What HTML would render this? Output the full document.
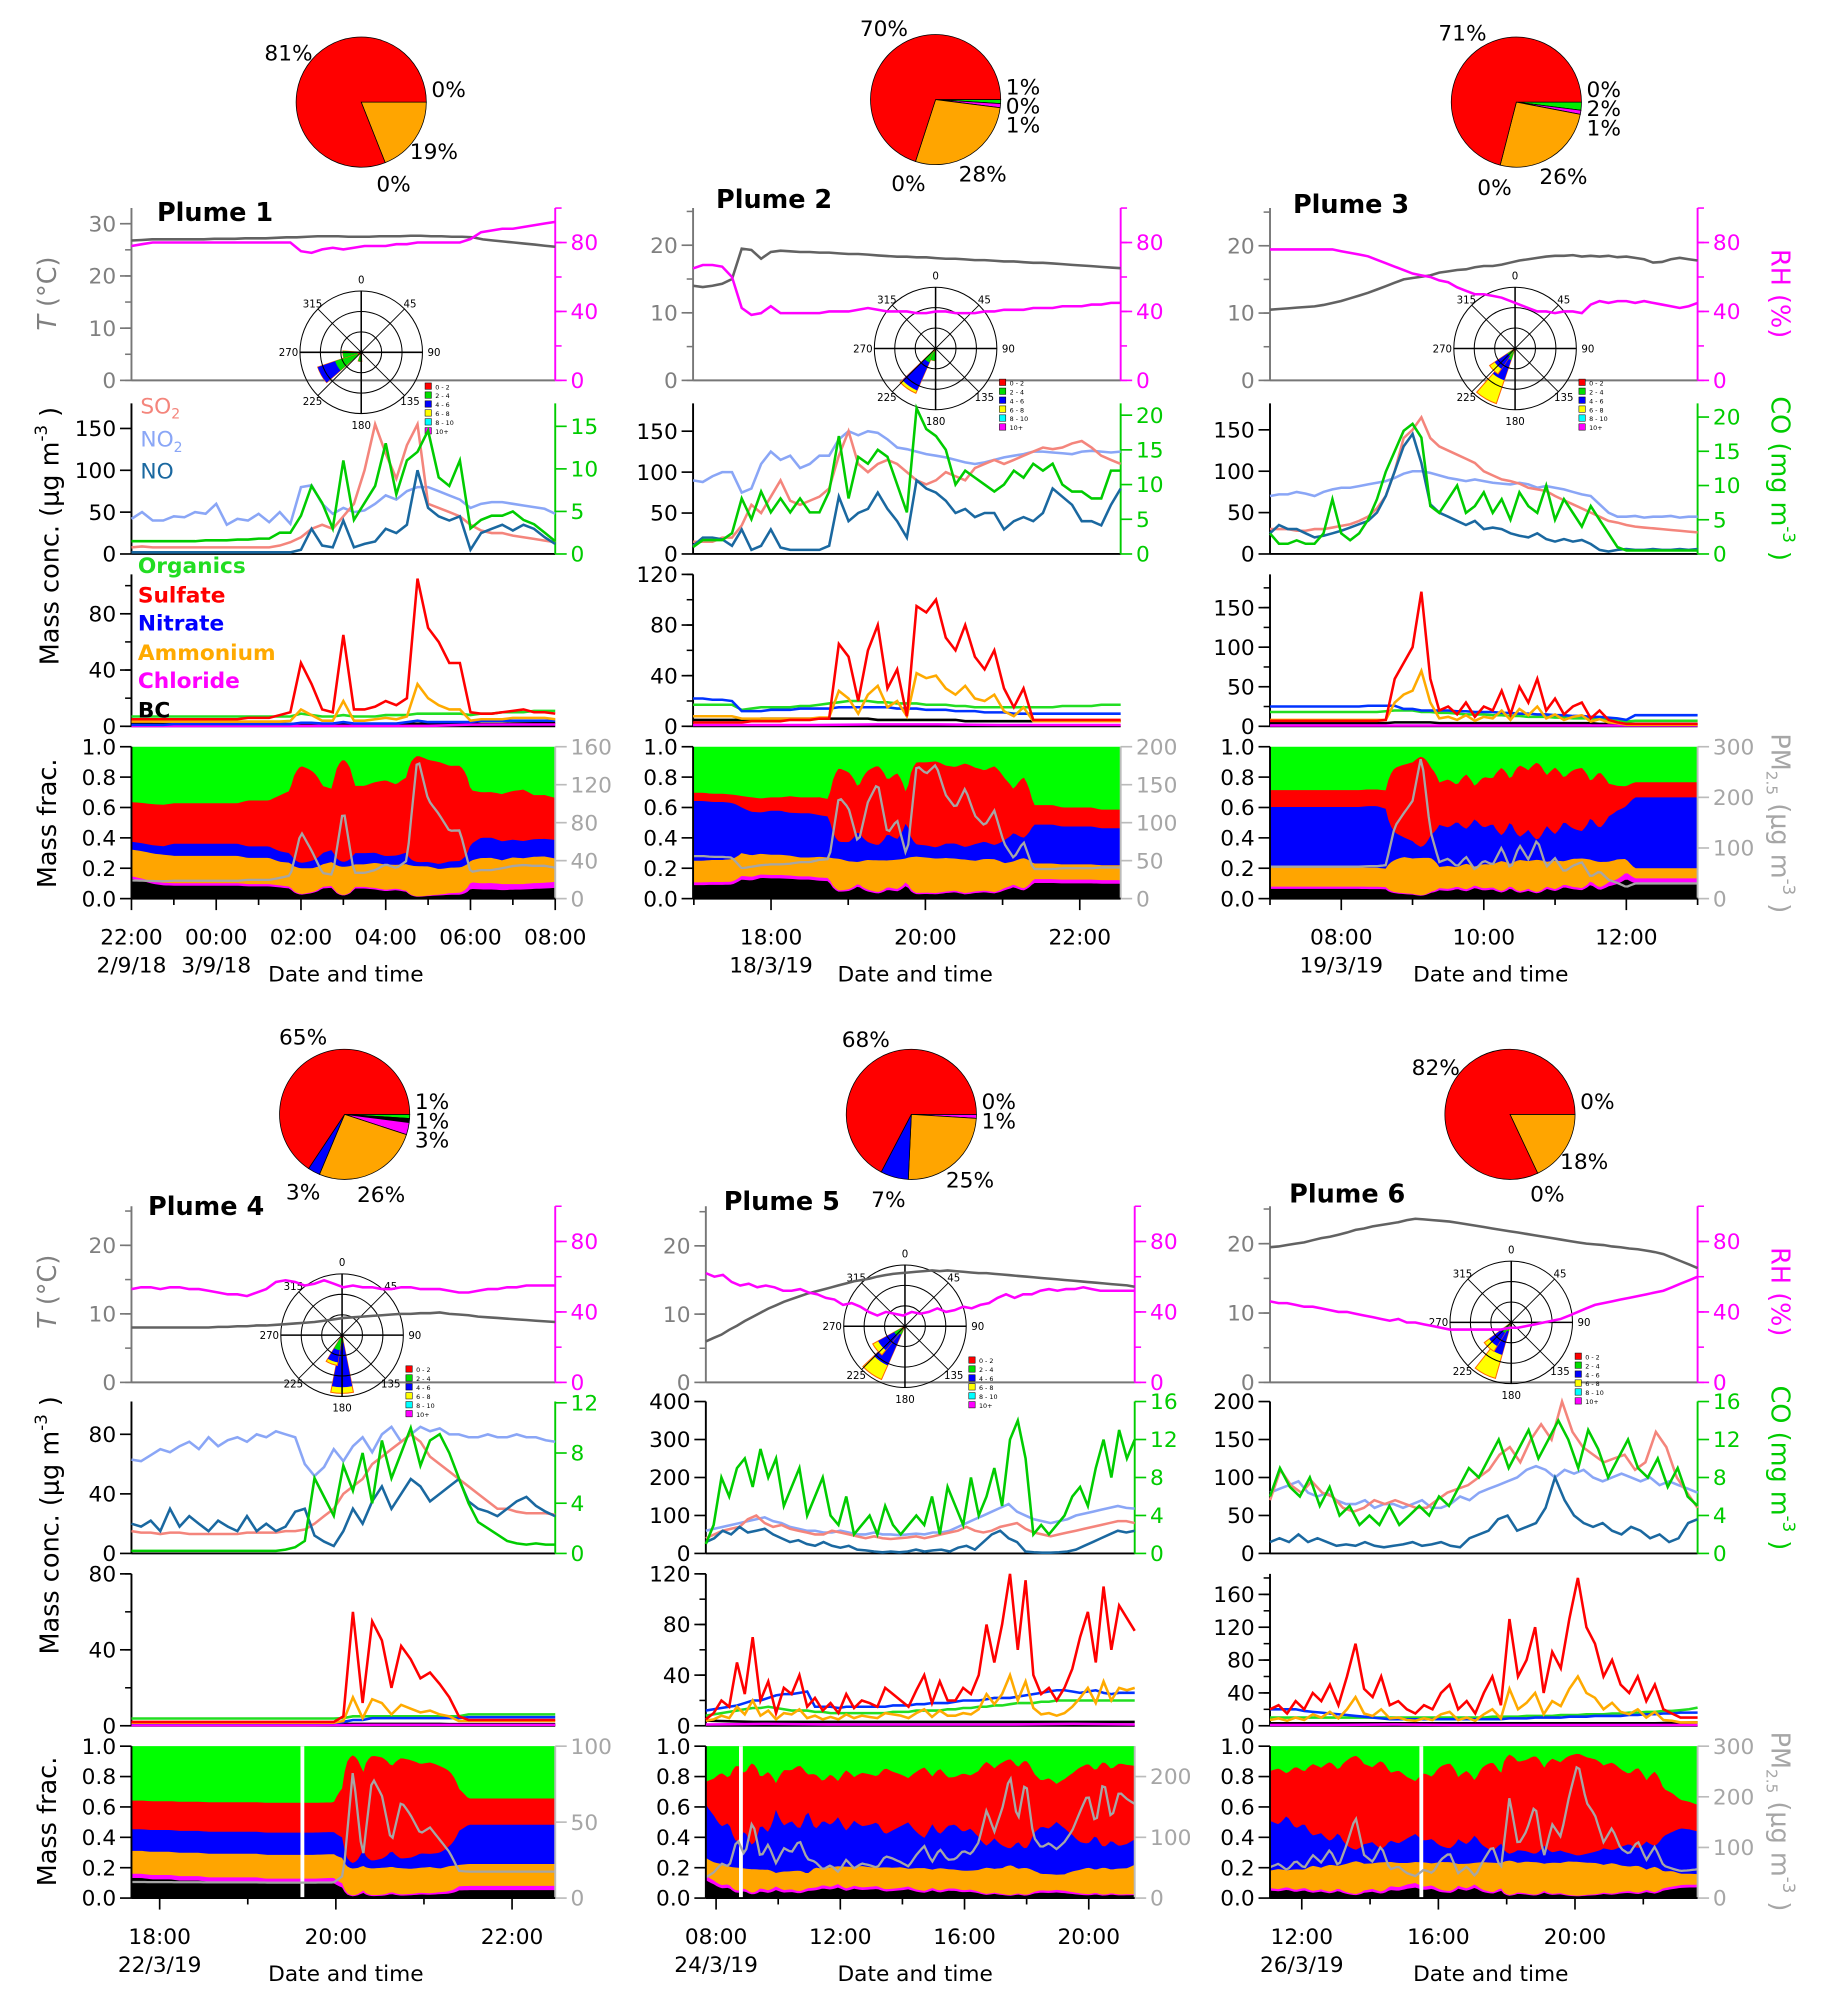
<!DOCTYPE html>
<html><head><meta charset="utf-8">
<style>html,body{margin:0;padding:0;background:#fff}svg{display:block}text{font-family:"DejaVu Sans","Liberation Sans",sans-serif}</style>
</head><body>
<svg id="fig" xmlns="http://www.w3.org/2000/svg" width="1838" height="2015" viewBox="0 0 1440 1578.6" preserveAspectRatio="none"></svg>
<script>
// ---------------- Plume 1 data ----------------
const p1_T=[26.8,26.9,27,27,27,27,27,27,27.1,27.1,27.1,27.2,27.2,27.2,27.3,27.4,27.4,27.5,27.6,27.6,27.6,27.5,27.5,27.5,27.6,27.6,27.6,27.7,27.7,27.6,27.6,27.5,27.5,27.4,27,26.8,26.6,26.4,26.2,26,25.8,25.6];
const p1_RH=[78,79,80,80,80,80,80,80,80,80,80,80,80,80,80,80,75,74,76,77,76,77,78,78,78,79,79,80,80,80,80,80,82,86,87,88,88,89,90,91,92];
const p1_NO2=[42,50,40,40,45,44,50,48,60,35,42,40,48,38,50,36,80,82,60,48,55,50,52,60,70,65,75,80,80,75,70,65,55,60,62,62,60,58,56,54,48];
const p1_SO2=[8,9,8,8,8,8,8,8,8,8,8,8,8,8,10,14,20,30,35,30,45,60,100,155,120,90,130,155,60,55,50,45,35,28,25,25,22,20,18,16,14];
const p1_NO=[2,2,2,2,2,2,2,2,2,2,2,2,2,2,2,2,5,30,10,8,40,8,12,15,30,25,35,100,55,45,40,45,5,25,30,35,28,35,30,20,12];
const p1_CO=[1.5,1.5,1.5,1.5,1.5,1.5,1.5,1.6,1.6,1.6,1.7,1.7,1.8,1.8,2.5,2.5,4.5,8,6,3,11,4,6,8,13,7,11,12,14.5,9,8,11,3,4,4.5,4.5,5,4,3.5,2.5,1.5];
const p1_Org=[7,7,7,7,7,7,7,7,7,7,7,7,7,7,7,7,9,8,7,7,8,7,7,7,8,8,8,9,9,9,9,9,8,9,9,10,10,10,11,11,11];
const p1_SO4=[5,5,5,5,5,5,5,5,5,5,5,6,6,6,8,10,45,30,12,10,65,12,12,14,18,15,20,105,70,60,45,45,10,9,9,10,11,12,10,10,9];
const p1_NO3=[1,1,1,1,1.5,1.5,1.5,1.5,1.5,1.5,1.5,1.5,1.5,1.5,1.5,1.5,2.5,2.5,2,2,3,2,2,2,2,2,3,4,3,3,3,3,3,4,4,4,4,4,4,4,4];
const p1_NH4=[3.4,3.4,3.4,3.4,3.4,3.4,3.4,3.4,3.4,3.4,3.4,3.4,3.4,3.4,3.4,3.8,12,8,4,4,18,4,4,5,6,5,7,30,20,15,12,12,4,5,5,5,6,6,6,6,5];
const p1_Chl=[0.3,0.3,0.3,0.3,0.3,0.3,0.3,0.3,1.2,1.3,1.3];
const p1_BC=[2.5,2.2,1.8,1.6,1.6,1.6,1.6,1.6,1.6,1.6,1.6,1.6,1.6,1.6,1.6,1.6,1.8,1.8,1.8,1.8,1.8,1.8,1.8,1.8,1.8,1.8,1.8,1.8,1.8,1.8,1.8,1.8,1.8,1.8,1.8,1.8,2,2.1,2.2,2.3,2.3];
// ---------------- Plume 2 data ----------------
const p2_T=[14,13.8,14,14.3,15,19.5,19.3,18,19,19.2,19.1,19,19,18.9,18.9,18.8,18.7,18.7,18.6,18.5,18.4,18.3,18.3,18.2,18.2,18.1,18,18,17.9,17.8,17.8,17.7,17.6,17.6,17.5,17.4,17.4,17.3,17.2,17.1,17,16.9,16.8,16.7,16.6];
const p2_RH=[65,67,67,66,60,42,38,39,43,39,39,39,39,39,40,40,40,41,42,41,40,40,40,39,39,40,40,39,39,39,40,40,41,41,41,42,42,42,43,43,43,44,44,45,45];
const p2_NO2=[90,88,95,100,100,75,80,110,125,115,120,105,110,120,120,140,150,145,150,148,140,130,128,125,122,120,118,115,112,110,112,115,118,120,122,125,125,124,123,122,125,126,125,124,125];
const p2_SO2=[15,15,15,20,20,35,60,50,70,90,65,60,65,70,80,120,150,110,100,110,115,110,100,90,85,90,100,95,90,105,110,115,110,115,120,125,130,128,130,135,138,130,120,115,110];
const p2_NO=[10,20,20,18,10,30,5,10,30,8,5,5,5,5,10,70,40,50,55,75,55,40,20,90,80,75,65,50,55,45,50,50,30,40,45,40,50,80,70,60,40,40,35,60,80];
const p2_CO=[1,2,2,2,3,8,5,9,6,8,6,8,6,6,9,17,8,14,13,15,14,10,6,21,18,17,15,10,12,11,10,9,10,12,11,13,12,13,10,9,9,8,8,12,12];
const p2_Org=[17,17,17,17,17,13,14,15,15,15,15,16,16,17,18,19,20,20,20,19,19,18,18,18,17,17,17,16,16,15,15,15,15,15,15,15,15,15,16,16,16,16,17,17,17];
const p2_SO4=[3,3,3,3,3,3,4,4,4,4,5,5,5,6,6,65,55,20,60,80,30,45,8,95,90,100,70,60,80,55,45,60,30,15,30,5,5,5,5,5,5,5,5,5,5];
const p2_NO3=[22,22,21,21,20,12,12,12,13,13,13,14,14,14,14,15,15,15,15,15,15,14,14,14,13,13,13,12,12,12,11,11,11,10,10,10,10,10,10,10,10,10,10,10,10];
const p2_NH4=[8,8,8,8,8,6,6,6,6,6,6,6,6,7,7,28,22,10,25,32,15,20,8,42,38,40,30,25,32,22,20,25,12,8,15,4,4,4,4,4,4,4,4,4,4];
const p2_Chl=[1,1,1,1.5,1.5,1,1,1];
const p2_BC=[5,5,5,5,5,5,5,6,6,6,6,6,6,6,6,6,6,6,6,5,5,5,5,5,5,5,5,5,4,4,4,4,4,4,4,4,4,4,4,4,4,4,4,4,4];
// ---------------- Plume 3 data ----------------
const p3_T=[10.5,10.6,10.7,10.8,10.9,11,11.2,11.5,11.8,12.2,12.6,13,13.5,14,14.5,15,15.2,15.4,15.6,16,16.2,16.4,16.5,16.8,17,17,17.2,17.5,17.8,18,18.2,18.4,18.5,18.5,18.6,18.4,18.5,18.4,18.5,18.3,18.4,18.2,18,17.5,17.6,18,18.2,18,17.8];
const p3_RH=[76,76,76,76,76,76,76,76,75,74,73,72,70,68,66,64,62,61,60,58,57,54,52,50,50,49,48,46,44,42,40,40,39,40,40,39,44,46,45,46,46,45,46,45,44,43,42,43,45];
const p3_NO2=[70,72,72,75,73,70,75,78,80,80,82,84,86,88,92,97,100,100,98,95,92,90,88,90,88,86,85,84,86,84,80,82,80,78,75,72,70,60,50,45,45,46,44,45,45,46,44,45,45];
const p3_SO2=[30,30,30,28,28,30,30,32,34,36,40,45,55,70,100,140,150,165,140,130,125,120,115,110,100,95,90,88,85,80,78,76,70,65,60,55,50,45,40,38,35,33,32,31,30,29,28,27,26];
const p3_NO=[25,35,30,30,25,20,22,25,28,32,36,40,50,70,100,130,145,110,60,50,45,40,35,40,30,32,30,25,22,20,25,18,15,18,15,17,12,5,3,5,6,5,5,6,5,5,6,5,6];
const p3_CO=[3,1.5,1.5,2,1.5,1.5,3,8,3,2,3,5,8,12,15,18,19,17,7,6,8,10,6,7,9,6,8,5,9,7,6,10,5,8,6,4,7,5,3,1,0.5,0.5,0.5,0.5,0.5,0.5,0.5,0.5,0.5];
const p3_Org=[18,18,18,18,18,18,18,18,18,18,18,18,18,19,20,20,20,18,18,17,17,16,15,15,15,14,14,13,13,12,12,12,11,11,10,10,10,9,9,8,6,7,7,7,7,7,7,7,7];
const p3_SO4=[7,7,7,7,7,7,7,7,7,7,7,7,7,8,60,80,100,170,60,20,25,15,30,12,25,20,45,15,50,30,60,20,35,15,25,30,10,20,8,5,3,3,3,3,3,3,3,3,3];
const p3_NO3=[25,25,25,25,25,25,25,25,25,25,25,26,26,26,26,22,22,20,20,20,20,19,19,18,18,18,17,17,16,16,15,15,14,14,13,13,12,12,11,10,8,14,14,14,14,14,14,14,14];
const p3_NH4=[8,8,8,8,8,8,8,8,8,8,8,8,8,8,30,40,45,70,30,10,12,8,14,7,12,10,20,8,22,14,25,10,15,8,12,14,6,9,5,4,2,2,2,2,2,2,2,2,2];
const p3_Chl=[1,1,1,1,1,1,1,1];
const p3_BC=[4,4,4,4,4,4,4,4,4,4,4,4,4,4,5,5,5,5,5,4,4,4,4,4,4,4,4,4,4,4,4,4,4,4,4,4,4,3,3,3,3,3,3,3,3,3,3,3,3];
// ---------------- Plume 4 data ----------------
const p4_T=[8,8,8,8,8,8,8,8,8,8.1,8.1,8.2,8.2,8.3,8.3,8.4,8.5,8.6,8.7,8.8,9,9.2,9.4,9.5,9.6,9.7,9.8,9.9,10,10,10.1,10.1,10.2,10,9.9,9.8,9.6,9.5,9.4,9.3,9.2,9.1,9,8.9,8.8];
const p4_RH=[53,54,54,53,54,54,53,53,52,51,50,50,49,51,53,57,58,57,55,56,58,56,54,55,54,54,53,53,54,54,53,53,53,52,51,51,52,53,53,54,54,55,55,55,55];
const p4_NO2=[63,62,66,70,68,72,75,70,78,72,76,78,75,80,78,82,80,78,60,52,58,70,62,72,78,68,80,85,75,80,85,82,84,80,80,78,78,80,78,78,80,78,78,76,75];
const p4_SO2=[15,14,14,13,14,14,13,13,13,13,13,13,14,14,14,14,15,15,16,20,25,30,40,45,50,60,65,70,75,80,75,65,60,55,50,45,40,35,30,30,28,27,27,27,26];
const p4_NO=[20,18,22,15,30,18,25,20,15,22,18,15,25,15,20,15,18,28,30,12,8,5,15,30,20,35,45,30,40,50,45,35,40,45,50,35,30,28,25,30,35,38,32,28,25];
const p4_CO=[0.2,0.2,0.2,0.2,0.2,0.2,0.2,0.2,0.2,0.2,0.2,0.2,0.2,0.2,0.2,0.2,0.3,0.5,1,6,4.5,3,7,5,8,4,9,6,8,10,7,9,9.5,8,6,4,2.5,2,1.5,1,0.8,0.7,0.8,0.7,0.7];
const p4_Org=[3.8,3.8,3.8,3.8,3.8,3.8,3.8,3.8,3.8,3.8,3.8,3.8,3.8,3.8,3.8,3.8,3.8,3.8,3.8,3.8,3.8,3.8,4,5,5,5,5,5,5,5,5,5,5,5,5,6,6,6,6,6,6,6,6,6,6];
const p4_SO4=[2,2,2,2,2,2,2,2,2,2,2,2,2,2,2,2,2,2,2,2,2,2,5,60,12,55,45,20,42,35,25,28,22,15,5,3,3,3,3,3,3,3,3,3,3];
const p4_NO3=[1.5,1.5,1.5,1.5,1.5,1.5,1.5,1.5,1.5,1.5,1.5,1.5,1.5,1.5,1.5,1.5,1.5,1.5,1.5,1.5,1.5,1.5,2,3,3,4,4,4,4,4,4,4,4,4,4,4.5,4.5,4.5,4.5,4.5,4.5,4.5,4.5,4.5,4.5];
const p4_NH4=[1.6,1.6,1.6,1.6,1.6,1.6,1.6,1.6,1.6,1.6,1.6,1.6,1.6,1.6,1.6,1.6,1.6,1.6,1.6,1.6,1.6,1.6,2.5,15,4,14,12,6,11,9,7,8,6,5,2.5,2.5,2.5,2.5,2.5,2.5,2.5,2.5,2.5,2.5,2.5];
const p4_Chl=[0.3,0.3,0.3,0.3,0.5,0.5,0.5,0.5];
const p4_BC=[1.4,1.4,1.3,1.3,1.3,1.2,1.2,1.2,1.1,1.1,1.1,1.1,1.1,1.1,1,1,1,1,1,1,1,1,1,1,1,1,1,1,1,1,1,1,1,0.9,0.9,0.9,0.9,0.9,0.9,0.9,0.9,0.9,0.9,0.9,0.9];
// ---------------- Plume 5 data ----------------
const p5_T=[6,6.5,7,7.7,8.3,9,9.6,10.2,10.8,11.3,11.8,12.2,12.6,13,13.3,13.6,13.9,14.2,14.5,14.8,15,15.2,15.5,15.7,15.9,16,16.1,16.2,16.3,16.4,16.3,16.4,16.3,16.2,16.1,16,16,15.9,15.8,15.7,15.6,15.5,15.4,15.3,15.2,15.1,15,14.9,14.8,14.7,14.6,14.5,14.4,14.3,14.2,14];
const p5_RH=[62,60,61,57,55,56,54,55,54,52,52,53,51,50,48,47,44,45,43,40,38,40,39,38,40,39,40,42,40,41,43,42,44,45,48,50,48,50,50,52,53,52,53,53,54,53,52,52,52,52,52];
const p5_NO2=[60,65,70,75,80,85,90,95,85,80,70,65,60,60,55,55,60,55,50,50,55,50,50,48,50,52,50,55,55,60,70,80,90,100,110,120,130,110,100,90,85,80,85,90,100,105,110,115,120,125,120,118];
const p5_SO2=[40,50,60,65,70,90,100,80,70,75,65,60,55,50,50,60,55,50,45,40,45,40,38,40,42,45,40,45,50,55,60,70,60,55,60,70,75,80,65,55,50,45,50,55,60,65,70,75,80,85,85,80];
const p5_NO=[30,40,60,50,70,55,60,65,50,40,30,35,25,20,30,20,15,20,10,8,5,3,5,3,5,10,5,8,10,5,15,20,10,30,50,60,40,30,5,3,2,2,3,5,10,20,30,40,50,60,55,60];
const p5_CO=[1,3,8,6,9,10,7,11,8,10,5,7,9,4,6,8,4,3,6,2,3,4,2,5,3,2,3,4,3,6,2,7,5,3,8,4,6,9,5,12,14,10,2,3,2,3,4,6,7,5,9,12,8,13,10,12];
const p5_Org=[8,9,10,11,12,13,14,14,15,14,13,12,12,12,11,11,10,10,10,10,10,10,10,10,11,11,11,12,12,12,12,13,13,14,14,15,15,16,16,17,18,18,18,19,19,20,20,20,20,20,20,20,20,20,20,20];
const p5_SO4=[5,10,20,15,50,25,70,20,35,10,30,25,40,15,22,12,18,10,25,14,20,18,15,30,25,20,15,28,40,18,35,20,20,30,25,40,80,50,80,120,60,115,40,25,30,20,30,45,70,90,50,110,60,95,85,75];
const p5_NO3=[12,13,14,15,16,18,20,20,22,24,25,25,26,27,15,15,15,14,15,15,15,15,15,15,16,16,16,17,17,18,18,18,19,20,20,20,21,22,22,22,23,24,25,26,27,28,28,27,26,27,28,26,25,26,26,26];
const p5_NH4=[4,5,8,6,15,9,20,8,12,5,10,9,13,6,8,5,7,5,9,6,8,7,6,10,9,8,6,10,13,7,12,8,8,10,9,13,25,17,25,40,20,35,14,9,10,8,10,15,22,30,18,35,20,30,28,30];
const p5_Chl=[1,1.5,1,1,1,1,1.5,1];
const p5_BC=[4,3,3,3,3,3,3,3,3,3];
// ---------------- Plume 6 data ----------------
const p6_T=[19.5,19.6,19.8,20,20.2,20.5,20.8,21,21.3,21.6,22,22.2,22.5,22.7,22.9,23.1,23.4,23.6,23.5,23.4,23.3,23.2,23,22.8,22.6,22.4,22.2,22,21.8,21.6,21.4,21.2,21,20.8,20.6,20.4,20.2,20,19.9,19.8,19.6,19.5,19.3,19.2,19,18.8,18.5,18,17.5,17,16.5];
const p6_RH=[46,45,45,44,43,43,42,41,40,40,39,38,37,36,35,36,34,34,33,32,31,30,30,30,30,30,30,30,31,31,32,33,34,35,36,38,40,42,44,45,46,47,48,49,50,51,52,54,56,58,60];
const p6_NO2=[80,85,90,95,80,75,80,70,65,65,70,60,65,65,60,65,70,60,60,65,75,70,80,85,90,95,100,110,115,110,100,110,105,110,100,95,100,105,100,95,100,90,95,90,85,80];
const p6_SO2=[70,110,90,80,95,80,75,60,55,60,70,65,70,65,60,60,70,80,85,90,100,110,130,140,120,150,170,150,200,160,140,130,120,125,130,110,120,160,140,100,80,60];
const p6_NO=[15,20,15,25,15,20,15,10,12,10,15,10,8,10,12,15,10,12,15,10,8,20,25,30,45,50,30,35,40,60,100,70,50,40,35,40,30,25,35,30,20,25,15,20,40,45];
const p6_CO=[6,9,7,6,8,5,7,4,5,3,4,3,5,3,4,5,4,6,5,7,9,8,10,12,9,11,13,10,12,14,12,9,13,11,8,10,12,9,8,10,7,9,6,5];
const p6_Org=[10,10,10,10,10,10,10,10,10,10,10,10,10,10,10,10,10,10,10,10,10,10,10,10,10,10,11,11,11,11,12,12,12,12,13,13,13,14,14,14,15,15,16,16,17,17,18,18,19,20,22];
const p6_SO4=[20,25,15,30,20,40,30,50,25,60,100,45,35,60,25,30,20,15,25,20,40,50,20,30,15,40,60,25,130,60,80,120,40,90,70,130,180,120,100,60,80,50,40,60,30,50,20,15,10,10,10];
const p6_NO3=[20,20,20,20,18,17,16,15,14,13,12,11,10,9,8,8,8,8,8,8,8,8,8,8,8,8,8,8,9,9,9,10,10,10,10,11,11,11,12,12,12,12,13,13,14,14,15,15,16,16,16];
const p6_NH4=[7,9,6,10,7,14,10,17,9,20,35,15,12,20,9,10,7,6,9,7,14,17,7,10,6,14,20,9,45,20,28,40,14,30,24,45,60,40,34,20,28,17,14,20,10,17,7,6,4,4,4];
const p6_Chl=[1,1,1.5,1,1,1,1,1];
const p6_BC=[3,3,3,3,3,3,3,3,3,3,4];
// ---------------- Pie & wind rose data ----------------
// pie slices clockwise from east; keys: org,bc,chl,nh4,no3,so4
const p1_pieKeys=['org','nh4','no3','so4'];       const p1_pieVals=[0,19,0,81];
const p2_pieKeys=['org','bc','chl','nh4','no3','so4']; const p2_pieVals=[1,0,1,28,0,70];
const p3_pieKeys=['bc','org','chl','nh4','no3','so4']; const p3_pieVals=[0,2,1,26,0,71];
const p4_pieKeys=['org','bc','chl','nh4','no3','so4']; const p4_pieVals=[1,1,3,26,3,65];
const p5_pieKeys=['org','chl','nh4','no3','so4'];      const p5_pieVals=[0,1,25,7,68];
const p6_pieKeys=['org','nh4','no3','so4'];            const p6_pieVals=[0,18,0,82];
const p1_roseDir=[240,263,188]; const p1_roseR=[[.06,.45,.75,.75],[.05,.3,.3,.3],[.05,.15,.15,.15]];
const p2_roseDir=[215,195];     const p2_roseR=[[.05,.25,.75,.8],[.05,.2,.2,.2]];
const p3_roseDir=[210,225];     const p3_roseR=[[.05,.2,.55,.95],[.05,.15,.4,.5]];
const p4_roseDir=[180,200];     const p4_roseR=[[.05,.12,.85,.95],[.05,.25,.45,.5]];
const p5_roseDir=[215,230];     const p5_roseR=[[.05,.15,.7,.95],[.05,.2,.5,.6]];
const p6_roseDir=[207,222];     const p6_roseR=[[.05,.15,.55,.95],[.05,.2,.45,.55]];
const p4_gaps=[19.62]; const p5_gaps=[8.8]; const p6_gaps=[15.5];

const D=[
 {T:p1_T,RH:p1_RH,NO2:p1_NO2,SO2:p1_SO2,NO:p1_NO,CO:p1_CO,Org:p1_Org,SO4:p1_SO4,NO3:p1_NO3,NH4:p1_NH4,Chl:p1_Chl,BC:p1_BC,pk:p1_pieKeys,pv:p1_pieVals,rd:p1_roseDir,rr:p1_roseR,gaps:[]},
 {T:p2_T,RH:p2_RH,NO2:p2_NO2,SO2:p2_SO2,NO:p2_NO,CO:p2_CO,Org:p2_Org,SO4:p2_SO4,NO3:p2_NO3,NH4:p2_NH4,Chl:p2_Chl,BC:p2_BC,pk:p2_pieKeys,pv:p2_pieVals,rd:p2_roseDir,rr:p2_roseR,gaps:[]},
 {T:p3_T,RH:p3_RH,NO2:p3_NO2,SO2:p3_SO2,NO:p3_NO,CO:p3_CO,Org:p3_Org,SO4:p3_SO4,NO3:p3_NO3,NH4:p3_NH4,Chl:p3_Chl,BC:p3_BC,pk:p3_pieKeys,pv:p3_pieVals,rd:p3_roseDir,rr:p3_roseR,gaps:[]},
 {T:p4_T,RH:p4_RH,NO2:p4_NO2,SO2:p4_SO2,NO:p4_NO,CO:p4_CO,Org:p4_Org,SO4:p4_SO4,NO3:p4_NO3,NH4:p4_NH4,Chl:p4_Chl,BC:p4_BC,pk:p4_pieKeys,pv:p4_pieVals,rd:p4_roseDir,rr:p4_roseR,gaps:p4_gaps},
 {T:p5_T,RH:p5_RH,NO2:p5_NO2,SO2:p5_SO2,NO:p5_NO,CO:p5_CO,Org:p5_Org,SO4:p5_SO4,NO3:p5_NO3,NH4:p5_NH4,Chl:p5_Chl,BC:p5_BC,pk:p5_pieKeys,pv:p5_pieVals,rd:p5_roseDir,rr:p5_roseR,gaps:p5_gaps},
 {T:p6_T,RH:p6_RH,NO2:p6_NO2,SO2:p6_SO2,NO:p6_NO,CO:p6_CO,Org:p6_Org,SO4:p6_SO4,NO3:p6_NO3,NH4:p6_NH4,Chl:p6_Chl,BC:p6_BC,pk:p6_pieKeys,pv:p6_pieVals,rd:p6_roseDir,rr:p6_roseR,gaps:p6_gaps}
];
// ---------------- layout ----------------
const ROWS=[{T:[163,298],G:[316,434],A:[450,569],F:[585,704],lab:740,lab2:762,dt:769},
            {T:[945,1083],G:[1098,1217],A:[1233,1352],F:[1368,1487],lab:1523,lab2:1545,dt:1552}];
const PL=[
 {x0:103,x1:435,row:0,t0:22,t1:32,tm:22,maj:2,mn:1,dates:[[22,'2/9/18'],[24,'3/9/18']],tMax:33,gMax:180,gStep:50,coMax:17.7,coStep:5,aMax:108,aStep:40,pmMax:160,pmStep:40,pie:[283,80],rose:[283,276],title:[123,173],dtx:271},
 {x0:543,x1:878,row:0,t0:16.99,t1:22.53,tm:18,maj:2,mn:1,dates:[[18,'18/3/19']],tMax:25.5,gMax:184,gStep:50,coMax:21.7,coStep:5,aMax:120,aStep:40,pmMax:200,pmStep:50,pie:[733,78],rose:[733,273],title:[561,163],dtx:717},
 {x0:995,x1:1330,row:0,t0:7,t1:13,tm:8,maj:2,mn:1,dates:[[8,'19/3/19']],tMax:25.6,gMax:182,gStep:50,coMax:22,coStep:5,aMax:192,aStep:50,pmMax:300,pmStep:100,pie:[1188,80],rose:[1187,273],title:[1013,167],dtx:1168},
 {x0:103,x1:435,row:1,t0:17.68,t1:22.49,tm:18,maj:2,mn:1,dates:[[18,'22/3/19']],tMax:25.7,gMax:102,gStep:40,coMax:12.1,coStep:4,aMax:80,aStep:40,pmMax:100,pmStep:50,pie:[270,873],rose:[268,1046],title:[116,952],dtx:271},
 {x0:553,x1:889,row:1,t0:7.67,t1:21.48,tm:8,maj:4,mn:2,dates:[[8,'24/3/19']],tMax:25.8,gMax:400,gStep:100,coMax:16,coStep:4,aMax:120,aStep:40,pmMax:250,pmStep:100,pie:[714,873],rose:[709,1039],title:[567,948],dtx:717},
 {x0:995,x1:1330,row:1,t0:11.07,t1:23.59,tm:12,maj:4,mn:2,dates:[[12,'26/3/19']],tMax:25.4,gMax:200,gStep:50,coMax:16,coStep:4,aMax:185,aStep:40,pmMax:300,pmStep:100,pie:[1183,873],rose:[1184,1036],title:[1010,942],dtx:1168}
];
const C={T:'#626262',RH:'#ff00ff',CO:'#00cc00',SO2:'#f4857c',NO2:'#8aa6f6',NO:'#1a68a0',Org:'#22dd22',SO4:'#ff0000',NO3:'#0033ff',NH4:'#ffaa00',Chl:'#ff00ff',BC:'#000000',PM:'#a6a6a6'};
const PIEC={org:'#00ee00',bc:'#000000',chl:'#ff00ff',nh4:'#ffa500',no3:'#0000ff',so4:'#ff0000'};
const FR={Org:'#00ff00',SO4:'#ff0000',NO3:'#0000ff',NH4:'#ffa500',Chl:'#ff00ff',BC:'#000000'};

const NS='http://www.w3.org/2000/svg';
const svg=document.getElementById('fig');
function el(tag,attrs,parent){const e=document.createElementNS(NS,tag);for(const k in attrs)e.setAttribute(k,attrs[k]);(parent||svg).appendChild(e);return e;}
function txt(x,y,s,attrs,parent){const a=Object.assign({x:x,y:y,'font-size':17},attrs||{});const e=el('text',a,parent);e.textContent=s;return e;}
function interp(arr,f){const p=f*(arr.length-1),i=Math.floor(p),j=Math.min(i+1,arr.length-1),w=p-i;return arr[i]*(1-w)+arr[j]*w;}
function fmt(v,step){return step<1?v.toFixed(1):String(Math.round(v));}

function drawPlume(k){
 const P=PL[k],d=D[k],R=ROWS[P.row];
 const g=el('g',{});
 
 
 const X=t=>P.x0+(t-P.t0)/(P.t1-P.t0)*(P.x1-P.x0);
 const Y=(band,max)=>v=>band[1]-Math.max(0,Math.min(v,max*1.02))/max*(band[1]-band[0]);
 const ser=(arr,Ys)=>arr.map((v,i)=>X(P.t0+(P.t1-P.t0)*i/(arr.length-1)).toFixed(1)+','+Ys(v).toFixed(1)).join(' ');
 function axis(band,max,step,side,col,labCol,minor,labels){
   const x=side==='l'?P.x0:P.x1,s=side==='l'?-1:1;
   el('line',{x1:x,y1:band[0],x2:x,y2:band[1],stroke:col,'stroke-width':1.5},g);
   const Ys=Y(band,max);
   if(minor){for(let v=0;v<=max+1e-6;v+=minor){el('line',{x1:x,x2:x+s*5,y1:Ys(v),y2:Ys(v),stroke:col,'stroke-width':1.2},g);}}
   for(let v=0;v<=max+1e-6;v+=step){const y=Ys(v);
     el('line',{x1:x,x2:x+s*9,y1:y,y2:y,stroke:col,'stroke-width':1.3},g);
     if(labels!==false)txt(x+s*12,y+6,fmt(v,step),{'text-anchor':side==='l'?'end':'start',fill:labCol},g);}
 }
 // ---- T / RH panel ----
 const YT=Y(R.T,P.tMax),YRH=Y(R.T,100);
 el('line',{x1:P.x0,x2:P.x1,y1:R.T[1],y2:R.T[1],stroke:'#777','stroke-width':1.5},g);
 axis(R.T,P.tMax,10,'l','#777','#808080',5);
 axis(R.T,100,40,'r',C.RH,C.RH,20);
 // wind rose
 const rc=P.rose,rr=48;
 const rg=el('g',{},g);
 
 
 d.rd.forEach((dir,wi)=>{const cum=d.rr[wi];const cols=['#ff0000','#00dd00','#0000ff','#ffff00'];
   for(let c=cum.length-1;c>=0;c--){const r=cum[c]*rr;if(r<=0)continue;const a1=(dir-11.25-90)*Math.PI/180,a2=(dir+11.25-90)*Math.PI/180;
     el('path',{d:`M${rc[0]},${rc[1]} L${rc[0]+r*Math.cos(a1)},${rc[1]+r*Math.sin(a1)} A${r},${r} 0 0 1 ${rc[0]+r*Math.cos(a2)},${rc[1]+r*Math.sin(a2)} Z`,fill:cols[c],stroke:c===cum.length-1?'#ff6600':'none','stroke-width':0.8},rg);}});
 [1,2/3,1/3].forEach(f=>el('circle',{cx:rc[0],cy:rc[1],r:rr*f,fill:'none',stroke:'#000','stroke-width':0.8},rg));
 for(let a=0;a<180;a+=45){const t=(a-90)*Math.PI/180;el('line',{x1:rc[0]-rr*Math.cos(t),y1:rc[1]-rr*Math.sin(t),x2:rc[0]+rr*Math.cos(t),y2:rc[1]+rr*Math.sin(t),stroke:'#000','stroke-width':a%90?0.7:1.2},rg);}
 [0,45,90,135,180,225,270,315].forEach(a=>{const t=(a-90)*Math.PI/180,rl=rr+(a%90?6:9);txt(rc[0]+rl*Math.cos(t),rc[1]+rl*Math.sin(t)+3,String(a),{'font-size':8,'text-anchor':'middle'},rg);});
 ['#ff0000','#00dd00','#0000ff','#ffff00','#00ffff','#ff00ff'].forEach((c,i)=>{el('rect',{x:rc[0]+50,y:rc[1]+24+i*7,width:5,height:5,fill:c,stroke:'#000','stroke-width':0.4},rg);
   txt(rc[0]+58,rc[1]+29+i*7,['0 - 2','2 - 4','4 - 6','6 - 8','8 - 10','10+'][i],{'font-size':5},rg);});
 const pT=el('polyline',{points:ser(d.T,YT),fill:'none',stroke:C.T,'stroke-width':2},g);
 
 
 const pRH=el('polyline',{points:ser(d.RH,YRH),fill:'none',stroke:C.RH,'stroke-width':2},g);
 
 
 // ---- gases ----
 const YG=Y(R.G,P.gMax),YCO=Y(R.G,P.coMax);
 el('line',{x1:P.x0,x2:P.x1,y1:R.G[1],y2:R.G[1],stroke:'#000','stroke-width':1.5},g);
 axis(R.G,P.gMax,P.gStep,'l','#000','#000',0);
 axis(R.G,P.coMax,P.coStep,'r',C.CO,C.CO,0);
 [['NO2','no2-line'],['SO2','so2-line'],['NO','no-line']].forEach(([s,n])=>{const p=el('polyline',{points:ser(d[s],YG),fill:'none',stroke:C[s],'stroke-width':2},g);
   
   });
 const pCO=el('polyline',{points:ser(d.CO,YCO),fill:'none',stroke:C.CO,'stroke-width':2},g);
 
 
 // ---- aerosol species ----
 const YA=Y(R.A,P.aMax);
 el('line',{x1:P.x0,x2:P.x1,y1:R.A[1],y2:R.A[1],stroke:'#000','stroke-width':1.5},g);
 axis(R.A,P.aMax,P.aStep,'l','#000','#000',P.aStep/2);
 ['BC','Chl','Org','NO3','NH4','SO4'].forEach(s=>{const p=el('polyline',{points:ser(d[s],YA),fill:'none',stroke:C[s],'stroke-width':2},g);
   
   });
 // ---- mass fraction ----
 const N=160,sp=['BC','Chl','NH4','NO3','SO4','Org'];
 const tot=[],cum=sp.map(()=>[]);
 for(let i=0;i<N;i++){const f=i/(N-1);const v=sp.map(s=>interp(d[s],f));const t=v.reduce((a,b)=>a+b,0);tot.push(t);let c=0;v.forEach((x,j)=>{c+=x/t;cum[j].push(c);});}
 const YF=v=>R.F[1]-v*(R.F[1]-R.F[0]);
 const xs=i=>X(P.t0+(P.t1-P.t0)*i/(N-1));
 for(let j=sp.length-1;j>=0;j--){let pts=`${xs(0)},${R.F[1]} `;for(let i=0;i<N;i++)pts+=`${xs(i).toFixed(1)},${YF(cum[j][i]).toFixed(1)} `;pts+=`${xs(N-1)},${R.F[1]}`;
   const a=el('polygon',{points:pts,fill:FR[sp[j]]},g);
   
   }
 d.gaps.forEach(t=>el('rect',{x:X(t)-1.5,y:R.F[0],width:3,height:R.F[1]-R.F[0],fill:'#fff'},g));
 const YP=Y(R.F,P.pmMax);
 const pm=el('polyline',{points:tot.map((v,i)=>xs(i).toFixed(1)+','+YP(v).toFixed(1)).join(' '),fill:'none',stroke:C.PM,'stroke-width':1.8},g);
 
 
 axis(R.F,1,0.2,'l','#000','#000',0);
 axis(R.F,P.pmMax,P.pmStep,'r','#bbb',C.PM,0);
 el('line',{x1:P.x0,x2:P.x1,y1:R.F[1],y2:R.F[1],stroke:'#000','stroke-width':1.5},g);
 // time axis
 for(let h=Math.ceil(P.t0/P.mn)*P.mn;h<=P.t1+1e-6;h+=P.mn){const x=X(h);const major=Math.abs(((h-P.tm)%P.maj+P.maj)%P.maj)<1e-6;
   el('line',{x1:x,x2:x,y1:R.F[1],y2:R.F[1]+(major?9:5),stroke:'#000','stroke-width':1.3},g);
   if(major){const hh=((Math.round(h)%24)+24)%24;txt(x,R.lab,(hh<10?'0':'')+hh+':00',{'text-anchor':'middle'},g);}}
 P.dates.forEach(([h,s])=>txt(X(h),R.lab2,s,{'text-anchor':'middle'},g));
 txt(P.dtx,R.dt,'Date and time',{'text-anchor':'middle'},g);
 // title
 txt(P.title[0],P.title[1],'Plume '+(k+1),{'font-weight':'bold','font-size':20},g);
 // pie
 const pc=P.pie,pr=51,pg=el('g',{},g);
 
 
 const totp=d.pv.reduce((a,b)=>a+b,0);let ang=0,small=0,seenNH4=false;
 d.pk.forEach((key,i)=>{const v=d.pv[i],a1=ang,a2=ang+v/totp*2*Math.PI;ang=a2;
   if(v>0){const p=el('path',{d:`M${pc[0]},${pc[1]} L${pc[0]+pr*Math.cos(a1)},${pc[1]+pr*Math.sin(a1)} A${pr},${pr} 0 ${a2-a1>Math.PI?1:0} 1 ${pc[0]+pr*Math.cos(a2)},${pc[1]+pr*Math.sin(a2)} Z`,fill:PIEC[key],stroke:'#000','stroke-width':0.6},pg);
     
     }
   if(key==='nh4')seenNH4=true;
   const m=(a1+a2)/2;let lx,ly;
   if(v<5&&!seenNH4){lx=pc[0]+pr+4;ly=pc[1]-4+small*15;small++;}
   else{const rl=pr*1.35;lx=pc[0]+rl*Math.cos(m);ly=pc[1]+rl*Math.sin(m)+6;}
   txt(lx,ly,v+'%',{'text-anchor':(v<5&&!seenNH4)?'start':'middle'},pg);});
}
for(let k=0;k<6;k++)drawPlume(k);

// ---------- legends & axis titles ----------
const lg=el('g',{});


function sub(x,y,a,b,col){const t=txt(x,y,a,{fill:col,'font-size':17},lg);const s=el('tspan',{'font-size':11,dy:4},t);s.textContent=b;}
sub(110,324,'SO','2',C.SO2);sub(110,350,'NO','2',C.NO2);txt(110,375,'NO',{fill:C.NO},lg);
[['Organics','#22dd22',449],['Sulfate','#ff0000',472],['Nitrate','#0000ff',494],['Ammonium','#ffaa00',517],['Chloride','#ff00ff',539],['BC','#000',562]].forEach(([s,c,y])=>txt(108,y,s,{fill:c,'font-weight':'bold','font-size':17},lg));
function vtitle(x,y,parts,col,rot){const t=el('text',{x:0,y:0,'font-size':20,fill:col,transform:`translate(${x},${y}) rotate(${rot})`,'text-anchor':'middle'},lg);
 parts.forEach(([s,o])=>{const ts=el('tspan',o||{},t);ts.textContent=s;});return t;}
[0,1].forEach(r=>{const o=r?782:0;
 vtitle(44,230+o,[['T',{'font-style':'italic'}],[' (°C)']],'#808080',-90);
 vtitle(46,(r?1195:420),[['Mass conc. (μg m'],['-3',{'font-size':13,dy:-9}],[' )',{dy:9}]],'#000',-90);
 vtitle(44,645+o,[['Mass frac.']],'#000',-90);
 vtitle(1388,230+o,[['RH (%)']],C.RH,90);
 vtitle(1388,(r?1150:375),[['CO (mg m'],['-3',{'font-size':13,dy:-9}],[' )',{dy:9}]],C.CO,90);
 vtitle(1388,645+o,[['PM'],['2.5',{'font-size':12,dy:4}],[' (μg m',{dy:-4}],['-3',{'font-size':13,dy:-9}],[' )',{dy:9}]],C.PM,90);
});
</script>
</body></html>
